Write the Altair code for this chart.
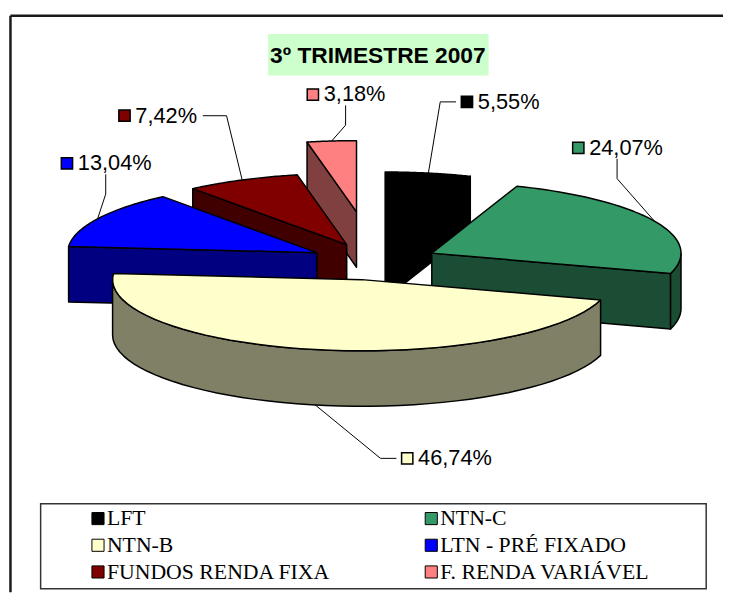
import altair as alt
import numpy as np
import pandas as pd

# ---------------- data ----------------
CATEGORIES = ["LFT", "NTN-C", "NTN-B", "LTN - PRÉ FIXADO",
              "FUNDOS RENDA FIXA", "F. RENDA VARIÁVEL"]
VALUES = [5.55, 24.07, 46.74, 13.04, 7.42, 3.18]
TOP_COLORS = ["#000000", "#339966", "#FFFFCC", "#0000FF", "#800000", "#FF8080"]
SIDE_COLORS = ["#000000", "#1A4D33", "#808066", "#000080", "#400000", "#804040"]
TITLE = "3º TRIMESTRE 2007"

# ---------------- styling / layout ----------------
EXPLODE = [0.26, 0.26, 0.26, 0.26, 0.26, 0.70]     # slice explosion factors
LABEL_NUDGE_X = [39, -77, 93, -31, -119, -19]       # label offset from its slice anchor
LABEL_NUDGE_Y = [-72, -74, 54, -56, -65, -47]
CX, CY = 378, 261          # pie centre (page px)
RX, RY = 252, 72           # ellipse radii of top face
DEPTH = 56                 # pie thickness
N = 48                     # arc resolution
LEG_X0, LEG_DX, LEG_Y0, LEG_DY = 99, 337, 521, 27

src = pd.DataFrame({
    "idx": list(range(len(CATEGORIES))),
    "cat": CATEGORIES,
    "val": VALUES,
    "top": TOP_COLORS,
    "side": SIDE_COLORS,
    "ex": EXPLODE,
    "nx": LABEL_NUDGE_X,
    "ny": LABEL_NUDGE_Y,
})

# painter's order: back slices first
_v = np.array(VALUES)
_mid = 2 * np.pi * (np.cumsum(_v) - _v / 2) / _v.sum()
_key = np.cos(_mid) * (1 + np.array(EXPLODE))
DRAW_ORDER = [CATEGORIES[i] for i in np.argsort(-_key)]

XS = alt.Scale(domain=[10, 731], nice=False, zero=False)
YS = alt.Scale(domain=[595, 12], nice=False, zero=False)
XA = alt.Axis(orient="top", labels=False, ticks=False, grid=False, title="",
              domainColor="#1a1a1a", domainWidth=2.5)
YA = alt.Axis(orient="left", labels=False, ticks=False, grid=False, title="",
              domainColor="#1a1a1a", domainWidth=2.5)


def xenc(f):
    return alt.X(f"{f}:Q", scale=XS, axis=XA)


def yenc(f):
    return alt.Y(f"{f}:Q", scale=YS, axis=YA)


def pie_base():
    return (alt.Chart(src)
            .transform_joinaggregate(total="sum(val)")
            .transform_window(cum="sum(val)", sort=[alt.SortField("idx", order="ascending")])
            .transform_calculate(a0="2*PI*(datum.cum-datum.val)/datum.total")
            .transform_calculate(a1="2*PI*datum.cum/datum.total")
            .transform_calculate(am="(datum.a0+datum.a1)/2")
            .transform_calculate(ox=f"{CX}+datum.ex*{RX}*sin(datum.am)")
            .transform_calculate(oy=f"{CY}-datum.ex*{RY}*cos(datum.am)"))


POLY = dict(filled=True, stroke="black", strokeWidth=1.5, strokeJoin="round")


def cut_layer(c):
    return (pie_base().transform_filter(alt.datum.cat == c)
            .transform_calculate(k="sequence(0,10)").transform_flatten(["k"])
            .transform_calculate(f="floor(datum.k/5)")
            .transform_calculate(kk="datum.k % 5")
            .transform_calculate(a="datum.f==0 ? datum.a0 : datum.a1")
            .transform_calculate(vis="datum.f==0 ? (sin(datum.a0) < -1e-6) : (sin(datum.a1) > 1e-6)")
            .transform_filter("datum.vis")
            .transform_calculate(rim="datum.kk==1 || datum.kk==2")
            .transform_calculate(X=f"datum.rim ? datum.ox+{RX}*sin(datum.a) : datum.ox")
            .transform_calculate(Y=f"(datum.rim ? datum.oy-{RY}*cos(datum.a) : datum.oy) + ((datum.kk==2||datum.kk==3) ? {DEPTH} : 0)")
            .mark_line(**POLY)
            .encode(x=xenc("X"), y=yenc("Y"), order="k:Q", detail="f:N",
                    fill=alt.Fill("side:N", scale=None)))


def wall_layer(c):
    return (pie_base().transform_filter(alt.datum.cat == c)
            .transform_calculate(lo="max(datum.a0, PI/2)")
            .transform_calculate(hi="min(datum.a1, 3*PI/2)")
            .transform_filter("datum.lo < datum.hi")
            .transform_calculate(k=f"sequence(0,{2 * N + 3})").transform_flatten(["k"])
            .transform_calculate(j=f"datum.k<={N} ? datum.k : (datum.k<={2 * N + 1} ? {2 * N + 1}-datum.k : 0)")
            .transform_calculate(t=f"datum.lo + datum.j/{N}*(datum.hi-datum.lo)")
            .transform_calculate(h=f"(datum.k>{N} && datum.k<={2 * N + 1}) ? {DEPTH} : 0")
            .transform_calculate(X=f"datum.ox+{RX}*sin(datum.t)")
            .transform_calculate(Y=f"datum.oy-{RY}*cos(datum.t)+datum.h")
            .mark_line(**POLY)
            .encode(x=xenc("X"), y=yenc("Y"), order="k:Q", detail="cat:N",
                    fill=alt.Fill("side:N", scale=None)))


def top_layer(c):
    return (pie_base().transform_filter(alt.datum.cat == c)
            .transform_calculate(k=f"sequence(0,{N + 3})").transform_flatten(["k"])
            .transform_calculate(t=f"datum.a0+(datum.k-1)/{N}*(datum.a1-datum.a0)")
            .transform_calculate(ap=f"datum.k==0 || datum.k=={N + 2}")
            .transform_calculate(X=f"datum.ap ? datum.ox : datum.ox+{RX}*sin(datum.t)")
            .transform_calculate(Y=f"datum.ap ? datum.oy : datum.oy-{RY}*cos(datum.t)")
            .mark_line(**POLY)
            .encode(x=xenc("X"), y=yenc("Y"), order="k:Q", detail="cat:N",
                    fill=alt.Fill("top:N", scale=None)))


layers = []
for c in DRAW_ORDER:
    layers += [cut_layer(c), wall_layer(c), top_layer(c)]

# ---------- data labels ----------
lab = (pie_base()
       .transform_calculate(front="cos(datum.am) < 0")
       .transform_calculate(AX=f"datum.ox+{RX}*sin(datum.am)")
       .transform_calculate(AY=f"datum.oy-{RY}*cos(datum.am) + (datum.front ? {DEPTH} : 0)")
       .transform_calculate(SX="datum.AX + datum.nx")
       .transform_calculate(SY="datum.AY + datum.ny")
       .transform_calculate(TX="datum.SX + 11")
       .transform_calculate(txt="replace(format(datum.val, '.2f'), '.', ',') + '%'")
       .transform_calculate(tw="12.2*(length(datum.txt)-2)+25.6")
       .transform_calculate(bl="datum.SX-7")
       .transform_calculate(br="datum.SX+11+datum.tw")
       .transform_calculate(mode="datum.AX < datum.bl ? 'L' : (datum.AX > datum.br ? 'R' : 'V')"))

leader = (lab.transform_calculate(k="sequence(0,3)").transform_flatten(["k"])
          .transform_calculate(LX="datum.k==2 ? datum.AX : (datum.mode=='V' ? (datum.bl+datum.br)/2 : (datum.mode=='L' ? (datum.k==0 ? datum.bl-4 : datum.bl-20) : (datum.k==0 ? datum.br+6 : datum.br+30)))")
          .transform_calculate(LY="datum.k==2 ? datum.AY : (datum.mode=='V' ? (datum.k==0 ? datum.SY+11 : datum.SY+31) : datum.SY)")
          .mark_line(color="black", strokeWidth=1)
          .encode(x=xenc("LX"), y=yenc("LY"), order="k:Q", detail="cat:N"))

lab_sq = lab.mark_square(size=130, stroke="black", strokeWidth=1.5, opacity=1).encode(
    x=xenc("SX"), y=yenc("SY"), fill=alt.Fill("top:N", scale=None))
lab_tx = lab.mark_text(align="left", baseline="middle", font="Liberation Sans",
                       fontSize=22, color="black").encode(
    x=xenc("TX"), y=yenc("SY"), text="txt:N")

# ---------- title ----------
tdf = pd.DataFrame({"t": [TITLE]})
title_box = alt.Chart(tdf).mark_rect(color="#CCFFCC").encode(
    x=alt.value(261), x2=alt.value(484), y=alt.value(19), y2=alt.value(61))
title_tx = alt.Chart(tdf).mark_text(font="Liberation Sans", fontWeight="bold", fontSize=23,
                                    color="black", align="center", baseline="middle").encode(
    x=alt.value(372), y=alt.value(41), text="t:N")

# ---------- legend ----------
leg = (alt.Chart(src)
       .transform_calculate(col="datum.idx % 2")
       .transform_calculate(row="floor(datum.idx/2)")
       .transform_calculate(LX=f"{LEG_X0} + datum.col*{LEG_DX}")
       .transform_calculate(LY=f"{LEG_Y0} + datum.row*{LEG_DY}")
       .transform_calculate(LT="datum.LX + 9"))
leg_box = alt.Chart(tdf).mark_rect(fill="white", stroke="#333333", strokeWidth=1.5).encode(
    x=alt.value(31), x2=alt.value(704), y=alt.value(494), y2=alt.value(580))
leg_sq = leg.mark_square(size=150, stroke="black", strokeWidth=1, opacity=1).encode(
    x=xenc("LX"), y=yenc("LY"), fill=alt.Fill("top:N", scale=None))
leg_tx = leg.mark_text(align="left", baseline="middle", font="Liberation Serif",
                       fontSize=22, color="black").encode(
    x=xenc("LT"), y=yenc("LY"), text="cat:N")

layers += [leader, lab_sq, lab_tx, title_box, title_tx, leg_box, leg_sq, leg_tx]

chart = (alt.layer(*layers)
         .properties(width=721, height=583,
                     padding={"left": 2, "top": 4, "right": 0, "bottom": 0},
                     autosize=alt.AutoSizeParams(type="none"),
                     background="white")
         .configure_view(stroke="transparent"))

chart.save("out.html", embed_options={"renderer": "svg", "actions": False})
